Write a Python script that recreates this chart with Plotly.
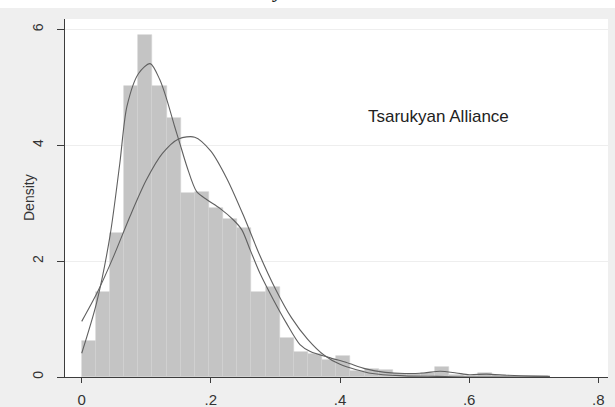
import plotly.graph_objects as go

# Histogram of vote shares (density scale), fixed-width bins starting at 0
bin_start = 0.0
bin_width = 0.0219
density = [0.63, 1.46, 2.48, 5.02, 5.90, 5.02, 4.47, 3.17, 3.20, 2.91,
           2.72, 2.57, 1.46, 1.56, 0.67, 0.44, 0.40, 0.30, 0.37, 0.10,
           0.14, 0.12, 0.05, 0.05, 0.07, 0.18, 0.04, 0.02, 0.07, 0.03,
           0.02, 0.01, 0.01]

# Kernel density estimate
kde_x = [0.000, 0.023, 0.044, 0.059, 0.070, 0.088, 0.106, 0.121, 0.132, 0.144,
         0.152, 0.163, 0.178, 0.194, 0.214, 0.235, 0.248, 0.261, 0.276, 0.297,
         0.317, 0.338, 0.354, 0.385, 0.410, 0.440, 0.470, 0.500, 0.530, 0.555,
         0.580, 0.600, 0.627, 0.660, 0.700, 0.725]
kde_y = [0.41, 1.28, 2.45, 3.69, 4.67, 5.24, 5.41, 5.13, 4.78, 4.32,
         4.03, 3.63, 3.20, 3.06, 2.91, 2.71, 2.54, 2.19, 1.79, 1.33,
         0.93, 0.56, 0.44, 0.33, 0.25, 0.14, 0.08, 0.06, 0.07, 0.10,
         0.07, 0.04, 0.05, 0.03, 0.015, 0.01]

# Normal density overlay
norm_x = [0.000, 0.025, 0.050, 0.075, 0.100, 0.125, 0.150, 0.175, 0.200, 0.225,
          0.250, 0.275, 0.300, 0.325, 0.350, 0.375, 0.400, 0.450, 0.500, 0.550,
          0.600, 0.650, 0.700, 0.725]
norm_y = [0.96, 1.48, 2.10, 2.78, 3.40, 3.86, 4.11, 4.14, 3.90, 3.42,
          2.80, 2.12, 1.52, 1.02, 0.65, 0.38, 0.22, 0.06, 0.02, 0.01,
          0.0, 0.0, 0.0, 0.0]

x_ticks = [0, 0.2, 0.4, 0.6, 0.8]
x_tick_text = ["0", ".2", ".4", ".6", ".8"]
y_ticks = [0, 2, 4, 6]
y_tick_text = ["0", "2", "4", "6"]

panel_label = "Tsarukyan Alliance"
caption = "<i>by Alliance</i>"

bin_centers = [bin_start + (i + 0.5) * bin_width for i in range(len(density))]

W, H = 615, 407
ML, MR, MT, MB = 65, 7, 19, 30
plot_w = W - ML - MR
plot_h = H - MT - MB

fig = go.Figure()
fig.add_trace(go.Bar(
    x=bin_centers, y=density, width=bin_width,
    marker=dict(color="#c4c4c4", line=dict(color="#d2d2d2", width=0.6)),
    showlegend=False, hoverinfo="skip",
))
fig.add_trace(go.Scatter(
    x=kde_x, y=kde_y, mode="lines",
    line=dict(color="#606060", width=1.1, shape="spline", smoothing=0.8),
    showlegend=False, hoverinfo="skip",
))
fig.add_trace(go.Scatter(
    x=norm_x, y=norm_y, mode="lines",
    line=dict(color="#606060", width=1.1, shape="spline", smoothing=0.8),
    showlegend=False, hoverinfo="skip",
))

fig.update_layout(
    width=W, height=H,
    margin=dict(l=ML, r=MR, t=MT, b=MB, pad=0, autoexpand=False),
    paper_bgcolor="#efefef",
    plot_bgcolor="#ffffff",
    bargap=0,
    font=dict(family="Liberation Sans, Arial, sans-serif", color="#333333"),
    xaxis=dict(
        range=[-0.0259, 0.815], automargin=False,
        tickvals=x_ticks, ticktext=x_tick_text,
        ticks="outside", ticklen=5, tickwidth=1.2, tickcolor="#3c3c3c",
        showline=True, linecolor="#3c3c3c", linewidth=1.4,
        showgrid=False, zeroline=False,
        tickfont=dict(size=15, color="#333333"),
        ticklabelstandoff=4,
    ),
    yaxis=dict(
        range=[0, 6.18], automargin=False,
        tickvals=y_ticks, ticktext=y_tick_text, tickangle=-90,
        ticks="outside", ticklen=7, tickwidth=1.2, tickcolor="#3c3c3c",
        showline=True, linecolor="#3c3c3c", linewidth=1.4,
        showgrid=True, gridcolor="#eeeeee", gridwidth=1,
        zeroline=False,
        tickfont=dict(size=14, color="#333333"),
        ticklabelstandoff=8,
    ),
    shapes=[dict(
        type="rect", xref="paper", yref="paper",
        x0=-0.3, x1=1.3, y0=1 + (MT - 8) / plot_h, y1=1.3,
        fillcolor="#ffffff", line=dict(width=0), layer="below",
    )],
    annotations=[
        dict(text=panel_label, x=0.441, y=4.505, xref="x", yref="y",
             xanchor="left", yanchor="middle", showarrow=False,
             font=dict(size=17, color="#222222")),
        dict(text="Density", x=(29 - ML) / plot_w, y=0.5,
             xref="paper", yref="paper", textangle=-90,
             xanchor="center", yanchor="middle", showarrow=False,
             font=dict(size=14, color="#333333")),
        dict(text=caption, x=(312 - ML) / plot_w,
             y=1 + (MT - 3.5) / plot_h,
             xref="paper", yref="paper", xanchor="center", yanchor="bottom",
             showarrow=False,
             font=dict(family="Liberation Serif, serif", size=22,
                       color="#222222")),
    ],
)

fig.write_html("out.html")
